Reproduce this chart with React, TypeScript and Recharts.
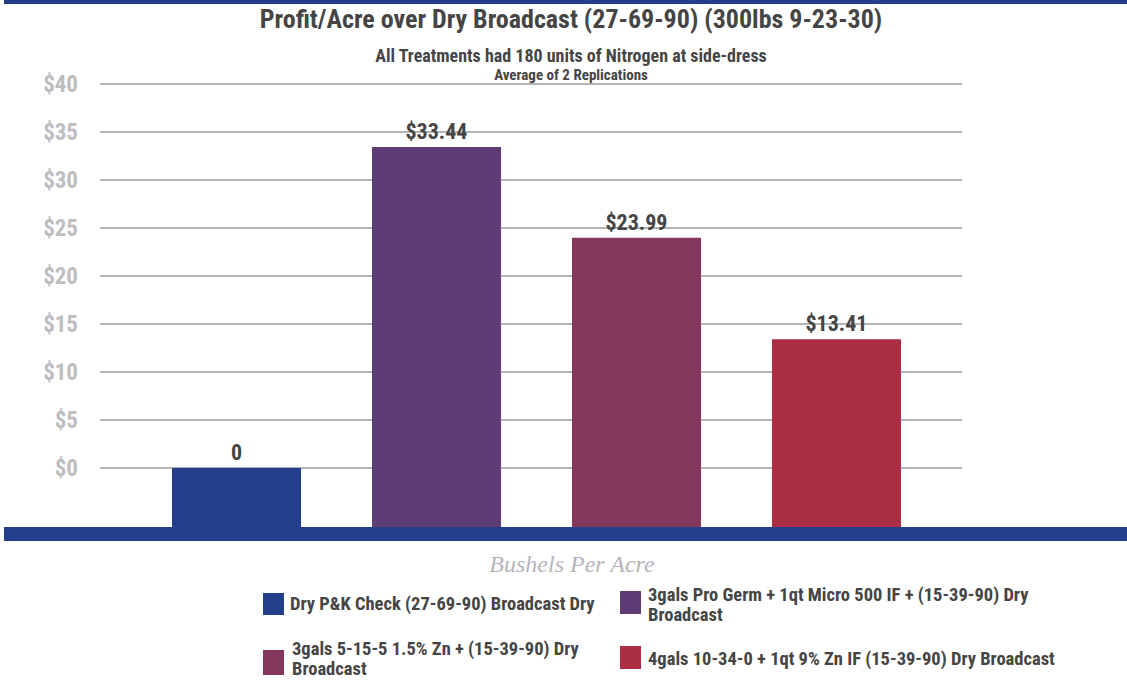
import React from 'react';
import { BarChart, Bar, XAxis, YAxis, CartesianGrid, Cell, LabelList } from 'recharts';

// Treatments and profit per acre ($) over the dry broadcast check
const treatments = [
  'Dry P&K Check (27-69-90) Broadcast Dry',
  '3gals Pro Germ + 1qt Micro 500 IF + (15-39-90) Dry Broadcast',
  '3gals 5-15-5 1.5% Zn + (15-39-90) Dry Broadcast',
  '4gals 10-34-0 + 1qt 9% Zn IF (15-39-90) Dry Broadcast',
];
const profit = [0, 33.44, 23.99, 13.41];
const barColors = ['#243f8c', '#5e3c74', '#84375d', '#ab2e45'];
const yTicks = [0, 5, 10, 15, 20, 25, 30, 35, 40];

// bars in the original run down to the floor of the plot, below $0
const FLOOR = -6.25;

const data = treatments.map((name, i) => ({
  name,
  profit: profit[i],
  span: [FLOOR, profit[i]],
}));

const FONT = '"Liberation Sans Narrow", "Roboto Condensed", "DejaVu Sans Condensed", "Liberation Sans", sans-serif';
const DARK = '#454545';

// legend slots
const legendPos = [
  { sx: 263, sy: 593, sh: 22, tx: 290, ty: 594, tw: 330 },
  { sx: 620, sy: 591, sh: 23, tx: 648, ty: 585, tw: 392 },
  { sx: 263, sy: 650, sh: 25, tx: 292, ty: 639, tw: 300 },
  { sx: 620, sy: 646, sh: 23, tx: 648, ty: 649, tw: 440 },
];

const fmt = (v: number) => (v === 0 ? '0' : `$${v.toFixed(2)}`);

export default function App() {
  return (
    <div style={{ position: 'absolute', left: 0, top: 0, width: 1127, height: 681, background: '#fff', fontFamily: FONT, overflow: 'hidden' }}>
      <div style={{ position: 'absolute', left: 4, top: 0, width: 1123, height: 4, background: '#243f8c' }} />
      <div style={{ position: 'absolute', left: 0, width: 1142, top: 4, textAlign: 'center', fontSize: 26, fontWeight: 700, color: DARK }}>
        Profit/Acre over Dry Broadcast (27-69-90) (300lbs 9-23-30)
      </div>
      <div style={{ position: 'absolute', left: 0, width: 1142, top: 45, textAlign: 'center', fontSize: 18, fontWeight: 700, color: DARK }}>
        All Treatments had 180 units of Nitrogen at side-dress
      </div>
      <div style={{ position: 'absolute', left: 0, width: 1142, top: 66, textAlign: 'center', fontSize: 15, fontWeight: 700, color: DARK }}>
        Average of 2 Replications
      </div>

      <div style={{ position: 'absolute', left: 0, top: 0 }}>
        <BarChart
          width={1127}
          height={545}
          data={data}
          margin={{ top: 84, right: 165, left: 0, bottom: 17 }}
        >
          <CartesianGrid vertical={false} stroke="#b4b4b8" strokeWidth={2} />
          <XAxis dataKey="name" hide padding={{ left: 36, right: 26 }} />
          <YAxis
            width={100}
            domain={[FLOOR, 40]}
            ticks={yTicks}
            axisLine={false}
            tickLine={false}
            tickMargin={16}
            tickFormatter={(v: number) => `$${v}`}
            tick={{ fill: '#bdbdc2', fontSize: 23, fontWeight: 700, fontFamily: FONT }}
          />
          <Bar dataKey="span" barSize={129} isAnimationActive={false}>
            {data.map((d, i) => (
              <Cell key={d.name} fill={barColors[i]} />
            ))}
            <LabelList
              dataKey="profit"
              position="top"
              offset={8}
              formatter={(v: number) => fmt(v)}
              style={{ fill: DARK, fontSize: 22, fontWeight: 700, fontFamily: FONT }}
            />
          </Bar>
        </BarChart>
      </div>

      <div style={{ position: 'absolute', left: 4, top: 527, width: 1123, height: 14, background: '#243f8c' }} />

      <div style={{ position: 'absolute', left: 0, width: 1144, top: 551, textAlign: 'center', fontSize: 24, fontStyle: 'italic', color: '#b5b5bd', fontFamily: '"Liberation Serif", "DejaVu Serif", serif' }}>
        Bushels Per Acre
      </div>

      {treatments.map((t, i) => {
        const p = legendPos[i];
        return (
          <React.Fragment key={t}>
            <div style={{ position: 'absolute', left: p.sx, top: p.sy, width: 21, height: p.sh, background: barColors[i] }} />
            <div style={{ position: 'absolute', left: p.tx, top: p.ty, width: p.tw, fontSize: 18.5, lineHeight: '20px', fontWeight: 700, color: DARK }}>
              {t}
            </div>
          </React.Fragment>
        );
      })}
    </div>
  );
}
